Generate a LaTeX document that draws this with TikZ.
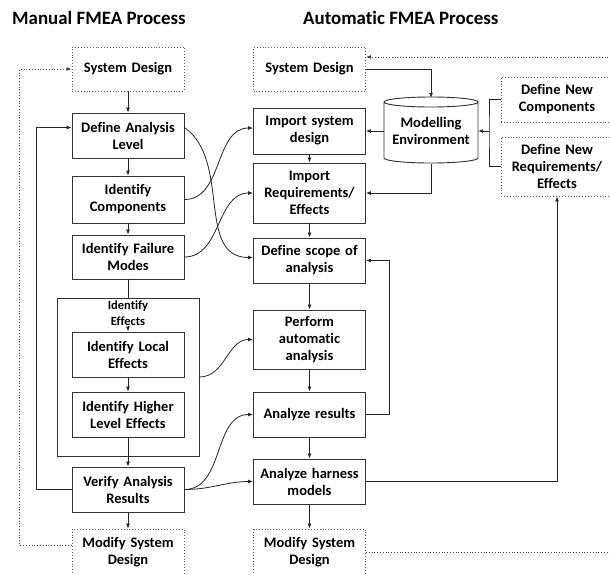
\documentclass[tikz,border=0pt]{standalone}
\usepackage{fontspec}
\setmainfont{Carlito}[Ligatures=NoCommon]
\usetikzlibrary{arrows.meta}
\tikzset{
  box/.style={draw=black!80,line width=0.9pt,minimum width=112pt,text width=106pt,align=center,inner sep=0pt,font=\fontsize{14.5}{17}\selectfont\bfseries},
  dotbox/.style={box,draw=black!65,dotted,line width=0.9pt},
  line/.style={draw=black!85,line width=0.8pt},
  arr/.style={line,-{Latex[length=5pt,width=4pt]}},
  dotarr/.style={arr,dotted,draw=black!75},
  title/.style={anchor=west,inner sep=0pt,font=\fontsize{18.9}{22}\selectfont\bfseries}
}
\begin{document}
\begin{tikzpicture}[x=1pt,y=-1pt]
  \useasboundingbox (0,0) rectangle (610,574);
  \clip (0,0) rectangle (610,574);
  \node[title] (tM) at (12,18) {Manual FMEA Process};
  \node[title] (tA) at (303,18) {Automatic FMEA Process};

  \node[dotbox,minimum height=44pt] (sysM) at (128,69) {System Design};
  \node[box,minimum height=45pt] (defLevel) at (128,135.5) {Define Analysis\\Level};
  \node[box,minimum height=47pt] (idComp) at (128,199.5) {Identify\\Components};
  \node[box,minimum height=44pt] (idFail) at (128,257) {Identify Failure\\Modes};
  \node[draw=black!80,line width=0.9pt,minimum width=142pt,minimum height=158pt] (idEffects) at (128,377) {};
  \node[font=\fontsize{12.5}{16}\selectfont\bfseries,align=center,inner sep=0pt] (effLabel) at (128,313) {Identify\\Effects};
  \node[box,minimum height=45pt] (idLocal) at (128,354.5) {Identify Local\\Effects};
  \node[box,minimum height=45pt] (idHigher) at (128,414.5) {Identify Higher\\Level Effects};
  \node[box,minimum height=45pt] (verify) at (128,489.5) {Verify Analysis\\Results};
  \node[dotbox,minimum height=46pt] (modM) at (128,552) {Modify System\\Design};

  \node[dotbox,minimum height=44pt] (sysA) at (309.5,69) {System Design};
  \node[box,minimum height=46pt] (impDesign) at (309.5,131) {Import system\\design};
  \node[box,minimum height=60pt] (impReq) at (309.5,193) {Import\\Requirements/\\Effects};
  \node[box,minimum height=45pt] (defScope) at (309.5,260.5) {Define scope of\\analysis};
  \node[box,minimum height=59pt] (perform) at (309.5,339.5) {Perform\\automatic\\analysis};
  \node[box,minimum height=45pt] (anaRes) at (309.5,414.5) {Analyze results};
  \node[box,minimum height=45pt] (anaHarness) at (309.5,481.5) {Analyze harness\\models};
  \node[dotbox,minimum height=46pt] (modA) at (309.5,552) {Modify System\\Design};

  \node[align=center,minimum width=94pt,minimum height=66pt,inner sep=0pt,font=\fontsize{14.5}{17}\selectfont\bfseries] (env) at (431,131) {Modelling\\Environment};
  \draw[black!80,line width=0.9pt] (384,102) -- (384,158) arc[start angle=180,end angle=0,x radius=47,y radius=5] -- (478,102)
    (431,102) ellipse[x radius=47,y radius=5];
  \node[dotbox,minimum height=45pt] (newComp) at (557,99.5) {Define New\\Components};
  \node[dotbox,minimum height=59pt] (newReq) at (557,166.5) {Define New\\Requirements/\\Effects};
  \coordinate (join) at (489,131);

  \foreach \u/\v in {sysM/defLevel,defLevel/idComp,idComp/idFail,effLabel/idLocal,idLocal/idHigher,idHigher/verify,verify/modM,
    impDesign/impReq,impReq/defScope,defScope/perform,perform/anaRes,anaRes/anaHarness,anaHarness/modA}
    \draw[arr] (\u) -- (\v);
  \draw[line] (idFail) -- (idEffects.north);

  \draw[arr] (verify.west) -- ++(-35,0) |- ([yshift=8pt]defLevel.west);
  \draw[dotarr] ([yshift=7pt]modM.west) -- ++(-52,0) |- (sysM.west);
  \draw[dotarr] (modA.east) -- ++(330,0) |- ([yshift=12pt]sysA.east);

  \draw[arr] (sysA.east) -| (env.north);
  \draw[arr] (env.west) -- (env.west -| impDesign.east);
  \draw[arr] (env.south) |- (impReq.east);
  \draw[line] (newComp.west) -| (join) |- (newReq.west);
  \draw[arr] (join) -- (env.east);
  \draw[arr] (anaRes.east) -- ++(23,0) |- (defScope.east);
  \draw[arr] (anaHarness.east) -| (newReq.south);

  \draw[arr] ([yshift=8pt]defLevel.east) to[out=-35,in=180] ([yshift=3pt]defScope.west);
  \draw[arr] (idComp.east) to[out=0,in=180] ([yshift=3pt]impDesign.west);
  \draw[arr] (idFail.east) to[out=0,in=180] (impReq.west);
  \draw[arr] (idEffects.east) to[out=0,in=180] (perform.west);
  \draw[arr] (verify.east) to[out=0,in=180] (anaRes.west);
  \draw[arr] (verify.east) to[out=0,in=180] (anaHarness.west);
\end{tikzpicture}
\end{document}
